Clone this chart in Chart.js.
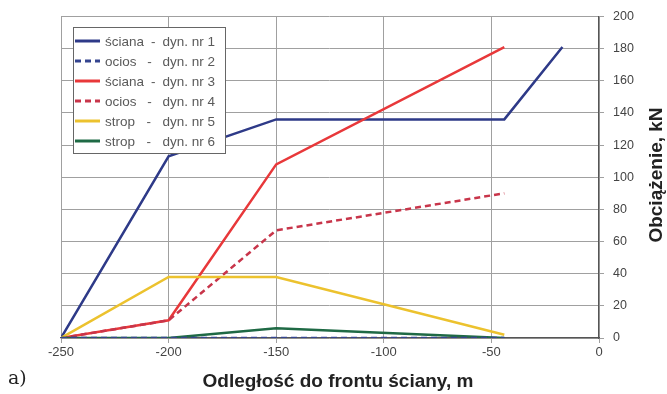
<!DOCTYPE html>
<html>
<head>
<meta charset="utf-8">
<script src="https://cdn.jsdelivr.net/npm/chart.js@4"></script>
<style>
  body { margin: 0; background: #fff; }
  #wrap { position: relative; width: 667px; height: 394px; }
  #legend {
    position: absolute; left: 73px; top: 27px; width: 151px;
    background: #fff; border: 1px solid #666; padding: 3px 0 2px 0;
    font-family: "Liberation Sans", Arial, sans-serif; font-size: 13.5px; color: #5a5a5a;
  }
  .row { display: flex; align-items: center; height: 20px; }
  .row canvas { margin: 0 5px 0 1px; }
  .lbl { display: flex; justify-content: space-between; width: 110px; white-space: pre; }
  #tag { position: absolute; left: 8px; top: 366px; font-family: "DejaVu Serif", serif; font-size: 19px; color: #222; }
</style>
</head>
<body>
<div id="wrap">
  <canvas id="chart" width="667" height="394"></canvas>
  <div id="legend"></div>
  <div id="tag">a)</div>
</div>
<script>
// distance to the face, m
const dist1 = [-250, -200, -150, -44, -17];
const dist = [-250, -200, -150, -44];

// load, kN
const scianaNr1 = [0, 113, 136, 136, 181];
const ociosNr2 = [0, 0, 0, 0];
const scianaNr3 = [0, 11, 108, 181];
const ociosNr4 = [0, 11, 67, 90];
const stropNr5 = [0, 38, 38, 2];
const stropNr6 = [0, 0, 6, 0];

const seriesNames = [
  "ściana - dyn. nr 1",
  "ocios - dyn. nr 2",
  "ściana - dyn. nr 3",
  "ocios - dyn. nr 4",
  "strop - dyn. nr 5",
  "strop - dyn. nr 6",
];

const pts = (xs, ys) => ys.map((y, i) => ({ x: xs[i], y: y }));

const datasets = [
  { label: seriesNames[1], data: pts(dist, ociosNr2), borderColor: "#34448f", borderDash: [6, 4] },
  { label: seriesNames[5], data: pts(dist, stropNr6), borderColor: "#1f6a45" },
  { label: seriesNames[4], data: pts(dist, stropNr5), borderColor: "#ecc22e" },
  { label: seriesNames[3], data: pts(dist, ociosNr4), borderColor: "#c8354a", borderDash: [6, 4] },
  { label: seriesNames[2], data: pts(dist, scianaNr3), borderColor: "#e8383a" },
  { label: seriesNames[0], data: pts(dist1, scianaNr1), borderColor: "#2e3a88" },
];
datasets.forEach(d => { d.borderWidth = 2.5; d.pointRadius = 0; d.fill = false; d.tension = 0; });

// legend in the original order
const legendOrder = [5, 0, 4, 3, 2, 1];
const legend = document.getElementById("legend");
legendOrder.forEach(i => {
  const d = datasets[i];
  const row = document.createElement("div");
  row.className = "row";
  const c = document.createElement("canvas");
  c.width = 25; c.height = 6;
  const g = c.getContext("2d");
  g.strokeStyle = d.borderColor;
  g.lineWidth = 3;
  if (d.borderDash) g.setLineDash([6, 4]);
  g.beginPath(); g.moveTo(0, 3); g.lineTo(25, 3); g.stroke();
  row.appendChild(c);
  const s = document.createElement("span");
  s.className = "lbl";
  // name, dash and number spread over the box width
  const parts = d.label.split(" - ");
  [parts[0], "-", parts[1]].forEach(t => {
    const p = document.createElement("span");
    p.textContent = t;
    s.appendChild(p);
  });
  row.appendChild(s);
  legend.appendChild(row);
});

// axis titles drawn by hand (y title reads bottom-to-top on the right)
const axisTitles = {
  id: "axisTitles",
  afterDraw(chart) {
    const ctx = chart.ctx;
    ctx.save();
    ctx.font = "bold 19px 'Liberation Sans'";
    ctx.fillStyle = "#222";
    ctx.textAlign = "center";
    ctx.textBaseline = "middle";
    ctx.fillText("Odległość do frontu ściany, m", 338, 382);
    ctx.translate(657, 175);
    ctx.rotate(-Math.PI / 2);
    ctx.fillText("Obciążenie, kN", 0, 0);
    ctx.restore();
  },
};

new Chart(document.getElementById("chart"), {
  type: "line",
  data: { datasets: datasets },
  plugins: [axisTitles],
  options: {
    responsive: false,
    animation: false,
    layout: { padding: { left: 61, top: 15, right: 4, bottom: 2 } },
    plugins: { legend: { display: false }, tooltip: { enabled: false } },
    scales: {
      x: {
        type: "linear", min: -250, max: 0,
        ticks: { stepSize: 50, color: "#444", font: { family: "Liberation Sans", size: 13 }, padding: 2 },
        grid: { color: "#a0a0a0", lineWidth: 1, tickLength: 5 },
        border: { color: "#555", width: 1.2 },
        afterFit: s => { s.height = 54; },
      },
      y: {
        position: "right", min: 0, max: 200,
        ticks: { stepSize: 20, color: "#444", font: { family: "Liberation Sans", size: 12.5 }, padding: 9 },
        grid: { color: "#a0a0a0", lineWidth: 1, tickLength: 5 },
        border: { color: "#555", width: 1.2 },
        afterFit: s => { s.width = 64; },
      },
    },
  },
});
</script>
</body>
</html>
